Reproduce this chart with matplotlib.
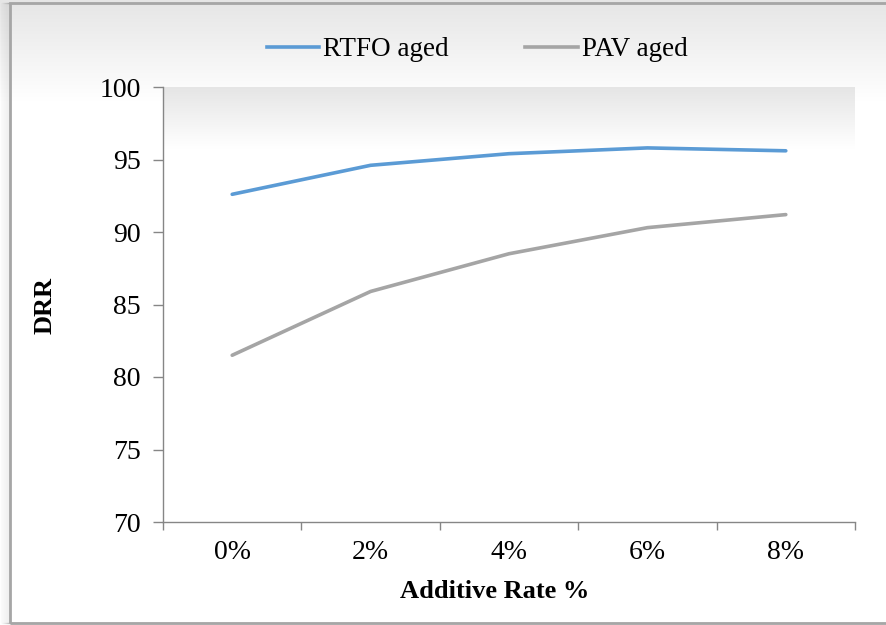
import numpy as np
import matplotlib.pyplot as plt
from matplotlib.patches import Rectangle
from matplotlib.lines import Line2D

plt.rcParams['font.family'] = ['Liberation Serif', 'DejaVu Serif']

# data
rates = ['0%', '2%', '4%', '6%', '8%']
rtfo_aged = [92.6, 94.6, 95.4, 95.8, 95.6]
pav_aged = [81.5, 85.9, 88.5, 90.3, 91.2]
y_ticks = [70, 75, 80, 85, 90, 95, 100]

W, H = 887, 625
fig = plt.figure(figsize=(W / 100, H / 100), dpi=100)

# figure background gradient (light gray at top fading to white)
bg = fig.add_axes([0, 0, 1, 1], zorder=-10)
top_frac = 100 / H
col = np.ones((256, 1, 3))
rows = np.linspace(1, 0, 256)  # 1 at top
t = np.clip((rows - (1 - top_frac)) / top_frac, 0, 1)
shade = 1 - 0.10 * t
col[:, 0, :] = shade[:, None]
bg.imshow(col, extent=[0, 1, 0, 1], aspect='auto', origin='upper')
bg.set_xlim(0, 1)
bg.set_ylim(0, 1)
bg.axis('off')

# chart frame with a soft shadow on the left
for i in range(10):
    fig.patches.append(Rectangle(((10 - i) / W, 2 / H), (W + 5) / W, (H - 5) / H,
                                 transform=fig.transFigure, fill=False,
                                 edgecolor='black', alpha=0.04 * (10 - i) / 10 + 0.01,
                                 linewidth=1.0, zorder=-5))
fig.patches.append(Rectangle((10.5 / W, 2 / H), (W + 5) / W, (H - 5) / H,
                             transform=fig.transFigure, fill=False,
                             edgecolor='#a6a6a6', linewidth=2.0, zorder=-4))

ax = fig.add_axes([163 / W, 1 - 522 / H, (855 - 163) / W, (522 - 87) / H])
ax.set_facecolor('none')

# plot area gradient
pa = np.ones((256, 1, 3))
r2 = np.linspace(0, 1, 256)  # 0 at top
s2 = 1 - 0.10 * np.clip(1 - r2 / 0.14, 0, 1)
pa[:, 0, :] = s2[:, None]
ax.imshow(pa, extent=[0, 1, 0, 1], aspect='auto', origin='upper',
          transform=ax.transAxes, zorder=0)

x = np.arange(len(rates))
ax.plot(x, rtfo_aged, color='#5b9bd5', linewidth=2.6, solid_capstyle='round',
        label='RTFO aged', zorder=3)
ax.plot(x, pav_aged, color='#a5a5a5', linewidth=2.6, solid_capstyle='round',
        label='PAV aged', zorder=3)

ax.set_xlim(-0.5, len(rates) - 0.5)
ax.set_ylim(70, 100)
ax.set_yticks(y_ticks)
ax.set_xticks(x)
ax.set_xticklabels(rates)
ax.set_xticks(np.arange(-0.5, len(rates)), minor=True)

for side in ['top', 'right']:
    ax.spines[side].set_visible(False)
for side in ['left', 'bottom']:
    ax.spines[side].set_color('#868686')
    ax.spines[side].set_linewidth(1.0)

ax.tick_params(axis='y', direction='out', length=7, width=1, color='#868686',
               pad=9, labelsize=20)
ax.tick_params(axis='x', which='major', length=0, pad=13, labelsize=20)
ax.tick_params(axis='x', which='minor', direction='out', length=6, width=1,
               color='#868686')

fig.text(45 / W, 1 - 305 / H, 'DRR', rotation=90, ha='center', va='center',
         fontsize=19, fontweight='bold')
fig.text(495 / W, 1 - 592 / H, 'Additive Rate %', ha='center', va='center',
         fontsize=19, fontweight='bold')

handles = [Line2D([], [], color='#5b9bd5', linewidth=2.6),
           Line2D([], [], color='#a5a5a5', linewidth=2.6)]
fig.legend(handles, ['RTFO aged', 'PAV aged'], loc='center',
           bbox_to_anchor=(477 / W, 1 - 50 / H), ncol=2, frameon=False,
           fontsize=19.5, handlelength=1.95, handletextpad=0.15, columnspacing=2.8)

fig.savefig('out.png', dpi=100)
